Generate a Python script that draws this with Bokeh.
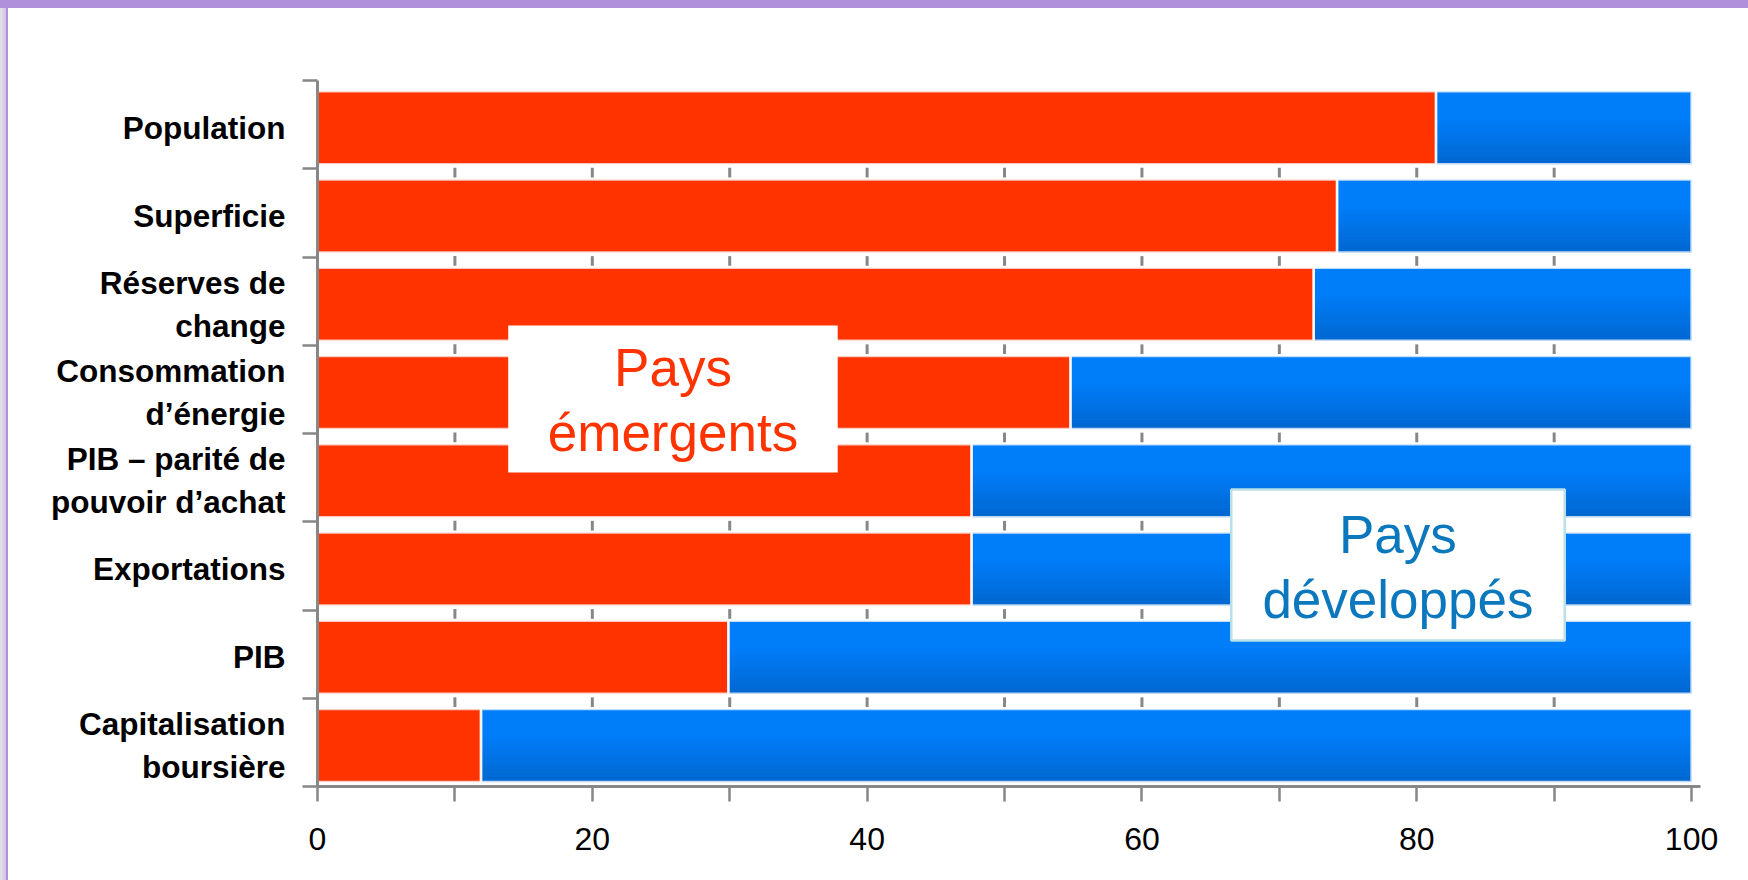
from bokeh.plotting import figure
from bokeh.models import Range1d, FixedTicker, Div
from bokeh.layouts import column, row
from bokeh.embed import file_html
from bokeh.resources import INLINE
from bokeh.core.properties import value

# ---------------- data ----------------
categories = [
    "Capitalisation\nboursière",
    "PIB",
    "Exportations",
    "PIB – parité de\npouvoir d’achat",
    "Consommation\nd’énergie",
    "Réserves de\nchange",
    "Superficie",
    "Population",
]
emergents = [11.9, 29.9, 47.6, 47.6, 54.8, 72.5, 74.2, 81.4]
developpes = [88.1, 70.1, 52.4, 52.4, 45.2, 27.5, 25.8, 18.6]
x_ticks = [0, 20, 40, 60, 80, 100]
x_minor_ticks = [10, 30, 50, 70, 90]
x_tick_labels = ["0", "20", "40", "60", "80", "100"]
label_emergents = ["Pays", "émergents"]
label_developpes = ["Pays", "développés"]

# ---------------- styles ----------------
FONT = "Liberation Sans"
RED = "#FF3300"
BLUE_TOP = "#007DF8"
BLUE_BOTTOM = "#0066CE"
AXIS_GREY = "#878787"
PURPLE = "#B090DA"
BAR_H = 0.828
BAND_OFF = 0.464       # distance from bar centre down to band boundary
TXT_DY = 0.2
TOP_BAND = 8
FIG_W, FIG_H = 1740, 872

n = len(categories)
ys = list(range(n))
totals = [e + d for e, d in zip(emergents, developpes)]

p = figure(width=FIG_W, height=FIG_H, output_backend="svg", toolbar_location=None,
           x_range=Range1d(0, 100.65), y_range=Range1d(-BAND_OFF, n - BAND_OFF),
           min_border_left=309, min_border_right=FIG_W - 1692, min_border_top=80 - TOP_BAND,
           min_border_bottom=FIG_H - (786 - TOP_BAND))
p.grid.visible = False
p.outline_line_color = None
p.background_fill_color = "white"
p.border_fill_color = "white"

# short grey grid marks visible in the gaps between bars
boundaries = [k - BAND_OFF for k in range(1, n)]
gx, gy0, gy1 = [], [], []
for b in boundaries:
    for t in sorted(x_minor_ticks + x_ticks[1:-1]):
        gx.append(t)
        gy0.append(b + 0.01)
        gy1.append(b - 0.10)
p.segment(x0=gx, y0=gy0, x1=gx, y1=gy1, line_color=AXIS_GREY, line_width=3)

# red bars (emerging countries)
p.hbar(y=ys, left=0, right=emergents, height=BAR_H, fill_color=RED, line_color=None)

# blue bars (developed countries) with a vertical gradient
p.hbar(y=ys, left=emergents, right=totals, height=BAR_H, fill_color=BLUE_TOP, line_color=None)


def mix(c0, c1, t):
    a = [int(c0[i:i + 2], 16) for i in (1, 3, 5)]
    b = [int(c1[i:i + 2], 16) for i in (1, 3, 5)]
    return "#%02x%02x%02x" % tuple(round(a[j] + (b[j] - a[j]) * t) for j in range(3))


N = 14
frac = 0.62
strip_h = BAR_H * frac / N
for k in range(N):
    t = 1 - (k + 0.5) / N
    yc = [y - BAR_H / 2 + (k + 0.5) * strip_h for y in ys]
    p.hbar(y=yc, left=emergents, right=totals, height=strip_h * 1.05,
           fill_color=mix(BLUE_TOP, BLUE_BOTTOM, t), line_color=None)

# light outlines
p.hbar(y=ys, left=0, right=emergents, height=BAR_H, fill_alpha=0,
       line_color="white", line_width=2.5, line_alpha=0.75)
p.hbar(y=ys, left=emergents, right=totals, height=BAR_H, fill_alpha=0,
       line_color="white", line_width=2.5, line_alpha=0.75)

# annotation boxes
p.quad(left=[13.88], right=[37.86], top=[4.760], bottom=[3.094],
       fill_color="white", line_color=None)
p.text(x=[25.87, 25.87], y=[4.080 + TXT_DY, 3.343 + TXT_DY], text=label_emergents,
       text_font=value(FONT), text_font_size="53px", text_color=RED,
       text_align="center", text_baseline="alphabetic")

p.quad(left=[66.50], right=[90.77], top=[2.901], bottom=[1.190],
       fill_color="white", line_color="#B9E0E8", line_width=2.5)
p.text(x=[78.63, 78.63], y=[2.188 + TXT_DY, 1.451 + TXT_DY], text=label_developpes,
       text_font=value(FONT), text_font_size="53px", text_color="#0B77BD",
       text_align="center", text_baseline="alphabetic")

# ---------------- axes ----------------
xa = p.xaxis[0]
xa.ticker = FixedTicker(ticks=x_ticks, minor_ticks=x_minor_ticks)
xa.major_label_overrides = {t: s for t, s in zip(x_ticks, x_tick_labels)}
xa.axis_line_color = AXIS_GREY
xa.axis_line_width = 3
xa.major_tick_line_color = AXIS_GREY
xa.minor_tick_line_color = AXIS_GREY
xa.major_tick_line_width = 2.5
xa.minor_tick_line_width = 2.5
xa.major_tick_in = 0
xa.minor_tick_in = 0
xa.major_tick_out = 15
xa.minor_tick_out = 15
xa.major_label_standoff = 26
xa.major_label_text_font = FONT
xa.major_label_text_font_size = "32px"
xa.major_label_text_color = "black"

ya = p.yaxis[0]
ya.ticker = FixedTicker(ticks=ys, minor_ticks=[k - BAND_OFF for k in range(n + 1)])
ya.major_label_overrides = {i: c for i, c in zip(ys, categories)}
ya.axis_line_color = AXIS_GREY
ya.axis_line_width = 3
ya.major_tick_line_color = None
ya.major_tick_in = 0
ya.major_tick_out = 0
ya.minor_tick_line_color = AXIS_GREY
ya.minor_tick_line_width = 2.5
ya.minor_tick_in = 0
ya.minor_tick_out = 15
ya.major_label_standoff = 17
ya.major_label_text_font = FONT
ya.major_label_text_font_style = "bold"
ya.major_label_text_font_size = "31.5px"
ya.major_label_text_color = "black"
ya.major_label_text_line_height = 1.2

# purple slide frame (top band and left strip)
top_band = Div(text="", width=8 + FIG_W, height=TOP_BAND, margin=0,
               styles={"background": PURPLE})
left_strip = Div(text="", width=8, height=FIG_H, margin=0,
                 styles={"background": "linear-gradient(to right, #E6E0EE 0%, #D0C6E0 70%, "
                                       + PURPLE + " 72%, " + PURPLE + " 100%)"})
layout = column(top_band, row(left_strip, p, spacing=0), spacing=0)

html = file_html(layout, INLINE)
open("out.html", "w").write(html)
